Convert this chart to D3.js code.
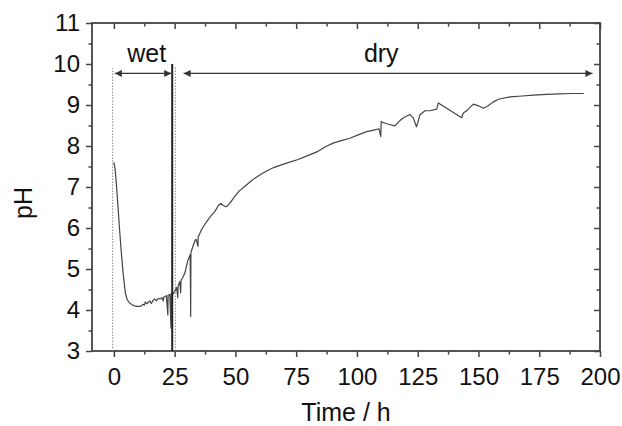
<!DOCTYPE html>
<html>
<head>
<meta charset="utf-8">
<script src="https://cdn.jsdelivr.net/npm/d3@7"></script>
<style>
  body { margin: 0; background: #fff; }
  svg { font-family: "Liberation Sans", Arial, sans-serif; }
</style>
</head>
<body>
<div id="chart"></div>
<script>
// pH trace (time in hours)
const timeH = [0, 0.5, 1.0, 1.6, 2.3, 3.0, 3.8, 4.7, 5.5, 6.5, 7.5, 8.5, 9.5, 10.5, 11.3, 12.0, 12.5, 13.0, 13.5,
  14.2, 14.8, 15.4, 16.2, 16.8, 17.5, 18.1, 19.0, 19.8, 20.3, 20.5, 21.6, 22.2, 22.3, 23.0, 23.5, 23.6, 24.2,
  25.0, 25.8, 26.3, 26.4, 27.1, 27.5, 27.6, 28.4, 29.2, 30.0, 30.5, 31.4, 31.6, 31.7, 32.5, 33.4, 33.9, 34.6,
  34.7, 36.0, 37.3, 38.7, 40.0, 41.5, 43.0, 44.0, 45.0, 46.0, 47.0, 48.5, 49.7, 51.5, 53.8, 56.0, 57.9, 60.5,
  63.4, 66.0, 68.9, 72.0, 75.8, 80.0, 84.0, 87.0, 90.2, 93.5, 97.1, 100.5, 104.0, 106.5, 109.1, 109.8, 110.0,
  110.5, 112.9, 115.6, 117.7, 119.5, 121.8, 123.2, 124.5, 125.2, 125.9, 128.0, 130.0, 132.8, 133.5, 143.1,
  143.7, 145.5, 147.9, 150.0, 152.0, 154.0, 156.0, 158.2, 163.0, 168.0, 172.6, 178.0, 183.6, 188.0, 193.3];
const pH = [7.6, 7.45, 7.1, 6.6, 6.0, 5.45, 4.9, 4.42, 4.25, 4.17, 4.13, 4.10, 4.09, 4.09, 4.10, 4.14, 4.12, 4.20, 4.15,
  4.19, 4.22, 4.16, 4.24, 4.27, 4.22, 4.28, 4.27, 4.30, 4.22, 4.31, 4.35, 3.88, 4.36, 4.38, 3.56, 4.41, 4.38,
  4.45, 4.55, 4.30, 4.58, 4.69, 4.42, 4.72, 4.80, 4.90, 5.10, 5.22, 5.35, 3.84, 5.40, 5.55, 5.70, 5.72, 5.55,
  5.78, 5.95, 6.08, 6.20, 6.30, 6.40, 6.55, 6.60, 6.55, 6.52, 6.55, 6.67, 6.77, 6.90, 7.01, 7.12, 7.21, 7.31,
  7.41, 7.48, 7.54, 7.60, 7.67, 7.77, 7.87, 7.98, 8.07, 8.13, 8.19, 8.27, 8.35, 8.38, 8.42, 8.23, 8.60,
  8.58, 8.53, 8.49, 8.62, 8.70, 8.77, 8.68, 8.47, 8.60, 8.76, 8.86, 8.86, 8.90, 9.05, 8.69,
  8.80, 8.88, 9.02, 8.98, 8.92, 8.98, 9.07, 9.14, 9.20, 9.22, 9.24, 9.26, 9.27, 9.28, 9.28];

const xTicks = [0, 25, 50, 75, 100, 125, 150, 175, 200];
const xMinorTicks = [12.5, 37.5, 62.5, 87.5, 112.5, 137.5, 162.5, 187.5];
const yTicks = [3, 4, 5, 6, 7, 8, 9, 10, 11];
const yMinorTicks = [3.5, 4.5, 5.5, 6.5, 7.5, 8.5, 9.5, 10.5];

// phase markers and labels
const dottedLines = [{ t: -0.5, top: 9.9 }, { t: 25.3, top: 9.95 }];
const solidLine = { t: 24, top: 10 };
const phaseArrows = [
  { label: "wet", from: 0.4, to: 23.6, level: 9.77, labelT: 13.5 },
  { label: "dry", from: 28.7, to: 196.9, level: 9.77, labelT: 110 }
];

const width = 622, height = 426;
const plotLeft = 92, plotRight = 600, plotTop = 23, plotBottom = 351;

const x = d3.scaleLinear().domain([-9, 200]).range([plotLeft, plotRight]);
const y = d3.scaleLinear().domain([3, 11]).range([plotBottom, plotTop]);

const svg = d3.select("#chart").append("svg")
  .attr("width", width)
  .attr("height", height);

svg.append("defs").append("marker")
  .attr("id", "head")
  .attr("viewBox", "0 0 10 10")
  .attr("refX", 10).attr("refY", 5)
  .attr("markerWidth", 9).attr("markerHeight", 7)
  .attr("markerUnits", "userSpaceOnUse")
  .attr("orient", "auto-start-reverse")
  .append("path")
  .attr("d", "M0,0 L10,5 L0,10 Z")
  .attr("fill", "#333");

const tickColor = "#444";
const labelFont = 24;

function styleAxis(g) {
  g.select(".domain").remove();
  g.selectAll("line").attr("stroke", tickColor).attr("stroke-width", 1.5);
  g.selectAll("text").attr("fill", "#111").style("font-size", labelFont + "px");
}

// major + minor ticks on all four sides
svg.append("g").attr("transform", `translate(0,${plotBottom})`)
  .call(d3.axisBottom(x).tickValues(xTicks).tickSize(6).tickPadding(11))
  .call(styleAxis);
svg.append("g").attr("transform", `translate(0,${plotBottom})`)
  .call(d3.axisBottom(x).tickValues(xMinorTicks).tickSize(3.5).tickFormat(""))
  .call(styleAxis);
svg.append("g").attr("transform", `translate(0,${plotTop})`)
  .call(d3.axisTop(x).tickValues(xTicks).tickSize(-6).tickFormat(""))
  .call(styleAxis);
svg.append("g").attr("transform", `translate(0,${plotTop})`)
  .call(d3.axisTop(x).tickValues(xMinorTicks).tickSize(-3.5).tickFormat(""))
  .call(styleAxis);

svg.append("g").attr("transform", `translate(${plotLeft},0)`)
  .call(d3.axisLeft(y).tickValues(yTicks).tickSize(6).tickPadding(6))
  .call(styleAxis);
svg.append("g").attr("transform", `translate(${plotLeft},0)`)
  .call(d3.axisLeft(y).tickValues(yMinorTicks).tickSize(3.5).tickFormat(""))
  .call(styleAxis);
svg.append("g").attr("transform", `translate(${plotRight},0)`)
  .call(d3.axisRight(y).tickValues(yTicks).tickSize(-6).tickFormat(""))
  .call(styleAxis);
svg.append("g").attr("transform", `translate(${plotRight},0)`)
  .call(d3.axisRight(y).tickValues(yMinorTicks).tickSize(-3.5).tickFormat(""))
  .call(styleAxis);

// frame
svg.append("rect")
  .attr("x", plotLeft).attr("y", plotTop)
  .attr("width", plotRight - plotLeft).attr("height", plotBottom - plotTop)
  .attr("fill", "none")
  .attr("stroke", tickColor)
  .attr("stroke-width", 1.8);

// phase boundaries
svg.selectAll(".dotted")
  .data(dottedLines)
  .enter()
  .append("line")
  .attr("x1", d => x(d.t)).attr("x2", d => x(d.t))
  .attr("y1", y(3)).attr("y2", d => y(d.top))
  .attr("stroke", "#888")
  .attr("stroke-width", 1)
  .attr("stroke-dasharray", "1.5,1.5");

// data trace
const line = d3.line()
  .x(d => x(d[0]))
  .y(d => y(d[1]));

svg.append("path")
  .datum(d3.zip(timeH, pH))
  .attr("d", line)
  .attr("fill", "none")
  .attr("stroke", "#444")
  .attr("stroke-width", 1.2)
  .attr("stroke-linejoin", "round");

svg.append("line")
  .attr("x1", x(solidLine.t)).attr("x2", x(solidLine.t))
  .attr("y1", y(3)).attr("y2", y(solidLine.top))
  .attr("stroke", "#222")
  .attr("stroke-width", 2);

// wet / dry arrows
svg.selectAll(".arrow")
  .data(phaseArrows)
  .enter()
  .append("line")
  .attr("x1", d => x(d.from)).attr("x2", d => x(d.to))
  .attr("y1", d => y(d.level)).attr("y2", d => y(d.level))
  .attr("stroke", "#333")
  .attr("stroke-width", 1.2)
  .attr("marker-start", "url(#head)")
  .attr("marker-end", "url(#head)");

svg.selectAll(".phase")
  .data(phaseArrows)
  .enter()
  .append("text")
  .attr("x", d => x(d.labelT))
  .attr("y", 62)
  .attr("text-anchor", "middle")
  .style("font-size", "25px")
  .attr("fill", "#111")
  .text(d => d.label);

// axis titles
svg.append("text")
  .attr("x", (plotLeft + plotRight) / 2)
  .attr("y", 421)
  .attr("text-anchor", "middle")
  .style("font-size", "25px")
  .attr("fill", "#111")
  .text("Time / h");

svg.append("text")
  .attr("transform", "translate(32,203) rotate(-90)")
  .attr("text-anchor", "middle")
  .style("font-size", "25px")
  .attr("fill", "#111")
  .text("pH");
</script>
</body>
</html>
